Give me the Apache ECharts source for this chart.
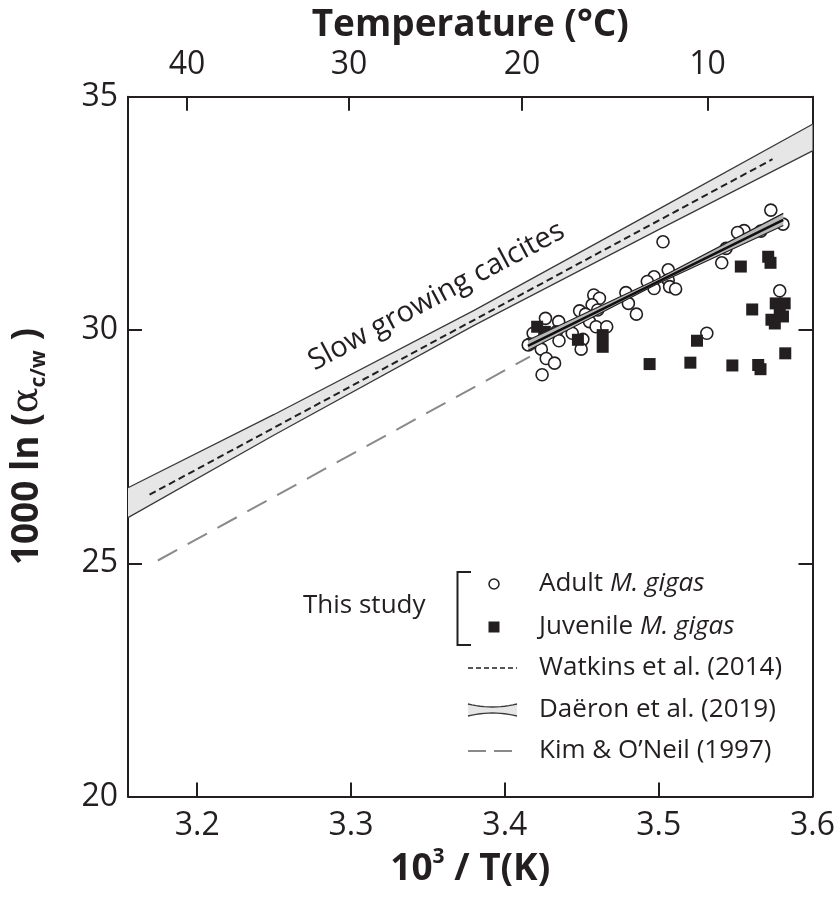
<!DOCTYPE html>
<html>
<head>
<meta charset="utf-8">
<script src="https://cdn.jsdelivr.net/npm/echarts@6/dist/echarts.min.js"></script>
<style>
html,body{margin:0;padding:0;background:#fff;}
#chart{width:838px;height:897px;}
</style>
</head>
<body>
<div id="chart"></div>
<script>
// ---------- data ----------
const xTicks = [3.2, 3.3, 3.4, 3.5, 3.6];
const yTicks = [20, 25, 30, 35];
const tempTicks = [40, 30, 20, 10];

const adultX = [3.5729,3.5808,3.5664,3.5555,3.5513,3.5438,3.5410,3.5028,3.5062,3.4970,3.4926,3.4970,3.5062,3.5071,3.5110,3.4787,3.4803,3.4855,3.4578,3.4615,3.4567,3.4603,3.4486,3.4524,3.4550,3.4593,3.4662,3.4438,3.4507,3.4496,3.4264,3.4350,3.4335,3.4352,3.4184,3.4163,3.4152,3.4237,3.4269,3.4323,3.4242,3.5313,3.5787];
const adultY = [32.57,32.27,32.12,32.13,32.09,31.75,31.44,31.89,31.29,31.14,31.04,30.89,31.07,30.93,30.88,30.80,30.57,30.34,30.75,30.68,30.54,30.43,30.41,30.34,30.18,30.07,30.07,29.93,29.80,29.59,30.25,30.18,29.96,29.77,29.93,29.70,29.68,29.59,29.39,29.29,29.04,29.93,30.84];

const juvX = [3.4210,3.4260,3.4475,3.4636,3.4636,3.5249,3.4941,3.5206,3.5479,3.5647,3.5662,3.5823,3.5534,3.5712,3.5727,3.5608,3.5761,3.5819,3.5787,3.5733,3.5755,3.5808];
const juvY = [30.07,29.96,29.79,29.89,29.64,29.77,29.27,29.30,29.24,29.25,29.16,29.50,31.36,31.57,31.44,30.44,30.57,30.57,30.36,30.22,30.14,30.29];

const watkinsX = [3.169, 3.574];
const watkinsY = [26.47, 33.66];

const kimX = [3.1744, 3.4163];
const kimY = [25.06, 29.43];

const daeronX = [3.155, 3.25, 3.38, 3.5, 3.6];
const daeronLow = [25.98, 27.75, 30.10, 32.15, 33.84];
const daeronHigh = [26.62, 28.19, 30.42, 32.59, 34.41];

const studyX = [3.415, 3.498, 3.581];
const studyLow = [29.56, 30.97, 32.24];
const studyMid = [29.66, 31.01, 32.36];
const studyHigh = [29.78, 31.07, 32.50];

// ---------- helpers ----------
const zip = (xs, ys) => xs.map((x, i) => [x, ys[i]]);
const FONT = '"Open Sans", sans-serif';
const tempVals = tempTicks.map(t => 1000 / (t + 273.15));

function bandSeries(name, xs, lo, hi, fill, z) {
  return {
    type: 'custom', name: name, z: z, silent: true,
    data: [0],
    renderItem: function (params, api) {
      const pts = [];
      xs.forEach((x, i) => pts.push(api.coord([x, hi[i]])));
      for (let i = xs.length - 1; i >= 0; i--) pts.push(api.coord([xs[i], lo[i]]));
      return { type: 'polygon', shape: { points: pts }, style: { fill: fill, stroke: null } };
    },
    clip: true
  };
}
function lineSeries(name, data, style, z) {
  return { type: 'line', name: name, data: data, symbol: 'none', smooth: false, lineStyle: style, z: z, silent: true, clip: true };
}

const chart = echarts.init(document.getElementById('chart'), null, { renderer: 'canvas' });

const INK = '#231f20';
const axisLineStyle = { color: INK, width: 2 };
const option = {
  animation: false,
  backgroundColor: '#fff',
  grid: { left: 125, right: 25, top: 96.7, bottom: 100.4, containLabel: false },
  xAxis: [
    {
      type: 'value', position: 'bottom', min: 3.155, max: 3.6,
      axisLine: { onZero: false, lineStyle: axisLineStyle },
      axisTick: { inside: true, length: 14, lineStyle: axisLineStyle, customValues: xTicks },
      axisLabel: { customValues: xTicks, fontSize: 32, fontFamily: FONT, color: INK, margin: 13,
        formatter: v => v.toFixed(1) },
      splitLine: { show: false },
      name: '{b|10}{sup|3}{b| / T(K)}', nameLocation: 'middle', nameGap: 48,
      nameTextStyle: {
        rich: {
          b: { fontSize: 37, fontWeight: 'bold', fontFamily: FONT, color: INK, lineHeight: 46 },
          sup: { fontSize: 21, fontWeight: 'bold', fontFamily: FONT, color: INK, verticalAlign: 'top', lineHeight: 30 }
        }
      }
    },
    {
      type: 'value', position: 'top', min: 3.155, max: 3.6,
      axisLine: { onZero: false, lineStyle: axisLineStyle },
      axisTick: { inside: true, length: 14, lineStyle: axisLineStyle, customValues: tempVals },
      axisLabel: { customValues: tempVals, fontSize: 32, fontFamily: FONT, color: INK, margin: 16,
        formatter: v => String(Math.round(1000 / v - 273.15)) },
      splitLine: { show: false },
      name: 'Temperature (°C)', nameLocation: 'middle', nameGap: 50,
      nameTextStyle: { fontSize: 37, fontWeight: 'bold', fontFamily: FONT, color: INK }
    }
  ],
  yAxis: [
    {
      type: 'value', position: 'left', min: 20, max: 35, interval: 5,
      axisLine: { onZero: false, lineStyle: axisLineStyle },
      axisTick: { inside: true, length: 14, lineStyle: axisLineStyle, customValues: yTicks },
      axisLabel: { customValues: yTicks, fontSize: 32, fontFamily: FONT, color: INK, margin: 10 },
      splitLine: { show: false },
      name: '{b|1000 ln (}{a|α}{sub|c/w}{b| )}', nameLocation: 'middle', nameGap: 78, nameRotate: 90,
      nameTextStyle: {
        rich: {
          b: { fontSize: 37, fontWeight: 'bold', fontFamily: FONT, color: INK, lineHeight: 46 },
          a: { fontSize: 38, fontWeight: 'normal', fontFamily: '"DejaVu Serif", serif', color: INK, lineHeight: 46 },
          sub: { fontSize: 21, fontWeight: 'bold', fontFamily: FONT, color: INK, verticalAlign: 'bottom', lineHeight: 14 }
        }
      }
    },
    {
      type: 'value', position: 'right', min: 20, max: 35, interval: 5,
      axisLine: { onZero: false, lineStyle: axisLineStyle },
      axisTick: { inside: true, length: 14, lineStyle: axisLineStyle, customValues: yTicks },
      axisLabel: { show: false },
      splitLine: { show: false }
    }
  ],
  series: [
    bandSeries('Daëron band', daeronX, daeronLow, daeronHigh, '#e6e6e6', 1),
    lineSeries('Daëron low', zip(daeronX, daeronLow), { color: '#3a3a3a', width: 1.3 }, 2),
    lineSeries('Daëron high', zip(daeronX, daeronHigh), { color: '#3a3a3a', width: 1.3 }, 2),
    lineSeries('Watkins et al. (2014)', zip(watkinsX, watkinsY), { color: INK, width: 2, type: [7, 4] }, 3),
    lineSeries('Kim & O\'Neil (1997)', zip(kimX, kimY), { color: '#8a8a8a', width: 2, type: [22, 12] }, 3),
    {
      type: 'scatter', name: 'Adult M. gigas', data: zip(adultX, adultY), symbol: 'circle', symbolSize: 12,
      itemStyle: { color: '#fff', borderColor: INK, borderWidth: 1.6, opacity: 1 }, z: 4, silent: true
    },
    {
      type: 'scatter', name: 'Juvenile M. gigas', data: zip(juvX, juvY), symbol: 'rect', symbolSize: 12,
      itemStyle: { color: INK, opacity: 1 }, z: 5, silent: true
    },
    bandSeries('Study band', studyX, studyLow, studyHigh, '#b8b8b8', 6),
    lineSeries('Study low', zip(studyX, studyLow), { color: INK, width: 1.2 }, 7),
    lineSeries('Study high', zip(studyX, studyHigh), { color: INK, width: 1.2 }, 7),
    lineSeries('Study fit', zip(studyX, studyMid), { color: '#111', width: 2.6 }, 8)
  ]
};
chart.setOption(option);

// ---------- annotations (label placed via the chart's scales) ----------
const pA = chart.convertToPixel({ xAxisIndex: 0, yAxisIndex: 0 }, [3.25, 27.97]);
const pB = chart.convertToPixel({ xAxisIndex: 0, yAxisIndex: 0 }, [3.5, 32.37]);
const ang = Math.atan2(pA[1] - pB[1], pB[0] - pA[0]);
const pT = chart.convertToPixel({ xAxisIndex: 0, yAxisIndex: 0 }, [3.36, 30.45]);

const legendTxt = { fontSize: 26, fontFamily: FONT, fill: INK };
const rich = {
  i: { fontSize: 26, fontFamily: FONT, fontStyle: 'italic', fill: INK, color: INK }
};
const LX = 468, LX2 = 517, TX = 539;
const yAdult = 584, yJuv = 627, yWat = 668, yDae = 710, yKim = 751;

function quadPts(x0, x1, yEnd, yMid, n) {
  const c = 2 * yMid - yEnd;
  const pts = [];
  for (let k = 0; k <= n; k++) {
    const t = k / n;
    pts.push([x0 + (x1 - x0) * t, (1 - t) * (1 - t) * yEnd + 2 * (1 - t) * t * c + t * t * yEnd]);
  }
  return pts;
}
const lensTop = quadPts(LX, LX2, yDae - 6, yDae - 3, 12);
const lensBot = quadPts(LX, LX2, yDae + 6, yDae + 3, 12);

chart.setOption({
  graphic: [
    { type: 'text', x: pT[0], y: pT[1], rotation: ang, originX: 0, originY: 0,
      style: { text: 'Slow growing calcites', fontSize: 29, fontFamily: FONT, fill: INK, align: 'center', verticalAlign: 'bottom' } },
    { type: 'text', x: 303, y: 606, style: Object.assign({ text: 'This study', verticalAlign: 'middle' }, legendTxt) },
    { type: 'polyline', shape: { points: [[471, 572], [457.5, 572], [457.5, 645], [471, 645]] }, style: { stroke: INK, lineWidth: 2, fill: null } },
    { type: 'circle', shape: { cx: 494, cy: yAdult, r: 5 }, style: { fill: '#fff', stroke: INK, lineWidth: 1.5 } },
    { type: 'rect', shape: { x: 488.5, y: yJuv - 5.5, width: 11, height: 11 }, style: { fill: INK } },
    { type: 'text', x: TX, y: yAdult, style: Object.assign({ text: 'Adult {i|M. gigas}', rich: rich, verticalAlign: 'middle' }, legendTxt) },
    { type: 'text', x: TX, y: yJuv, style: Object.assign({ text: 'Juvenile {i|M. gigas}', rich: rich, verticalAlign: 'middle' }, legendTxt) },
    { type: 'line', shape: { x1: LX, y1: yWat, x2: LX2, y2: yWat }, style: { stroke: INK, lineWidth: 1.6, lineDash: [5, 3] } },
    { type: 'text', x: TX, y: yWat, style: Object.assign({ text: 'Watkins et al. (2014)', verticalAlign: 'middle' }, legendTxt) },
    { type: 'polygon', shape: { points: lensTop.concat(lensBot.slice().reverse()) }, style: { fill: '#e6e6e6', stroke: null } },
    { type: 'polyline', shape: { points: lensTop }, style: { fill: null, stroke: '#3a3a3a', lineWidth: 1.3 } },
    { type: 'polyline', shape: { points: lensBot }, style: { fill: null, stroke: '#3a3a3a', lineWidth: 1.3 } },
    { type: 'text', x: TX, y: yDae, style: Object.assign({ text: 'Daëron et al. (2019)', verticalAlign: 'middle' }, legendTxt) },
    { type: 'line', shape: { x1: LX, y1: yKim, x2: LX2, y2: yKim }, style: { stroke: '#8a8a8a', lineWidth: 2, lineDash: [18, 8] } },
    { type: 'text', x: TX, y: yKim, style: Object.assign({ text: 'Kim & O\u2019Neil (1997)', verticalAlign: 'middle' }, legendTxt) }
  ]
});
</script>
</body>
</html>
